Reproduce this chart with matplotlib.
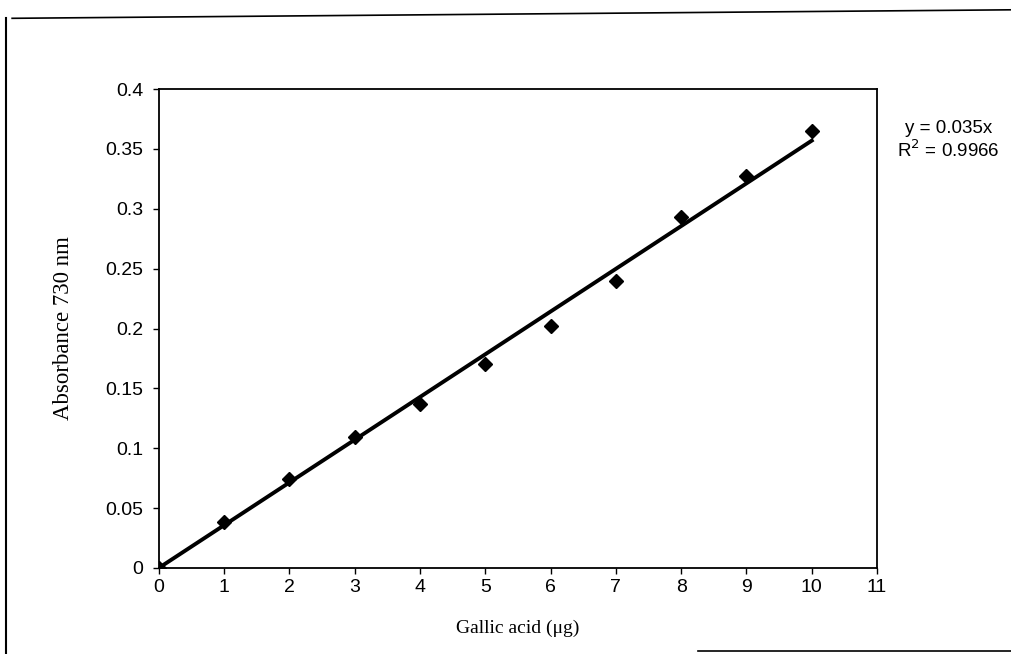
import numpy as np
import matplotlib
matplotlib.use('Agg')
import matplotlib.pyplot as plt
from matplotlib.lines import Line2D

# calibration data
gallic_ug = [0, 1, 2, 3, 4, 5, 6, 7, 8, 9, 10]
absorbance = [0, 0.038, 0.074, 0.109, 0.137, 0.170, 0.202, 0.240, 0.293, 0.327, 0.365]
x_ticks = list(range(0, 12))
y_ticks = [0, 0.05, 0.1, 0.15, 0.2, 0.25, 0.3, 0.35, 0.4]
equation_text = 'y = 0.035x'
r2_text = 'R$^2$ = 0.9966'

fig = plt.figure(figsize=(10.11, 6.54), dpi=100)
ax = fig.add_axes([0.157, 0.1315, 0.7105, 0.7324])

x = np.array(gallic_ug, dtype=float)
y = np.array(absorbance)
slope = np.sum(x * y) / np.sum(x * x)  # linear trendline through origin
ax.plot([x.min(), x.max()], [0, slope * x.max()], color='black', lw=2.8, zorder=2)
ax.plot(x, y, 'D', color='black', markersize=7.5, zorder=3)

ax.set_xlim(0, 11)
ax.set_ylim(0, 0.4)
ax.set_xticks(x_ticks)
ax.set_yticks(y_ticks)
ax.set_yticklabels(['{:g}'.format(v) for v in y_ticks])
for lab in ax.get_xticklabels() + ax.get_yticklabels():
    lab.set_family('Liberation Sans')
    lab.set_fontsize(14)
ax.tick_params(direction='out', length=4, width=1, pad=4)
ax.tick_params(axis='y', pad=7)
for s in ax.spines.values():
    s.set_linewidth(1.3)

ax.set_xlabel('Gallic acid (\u03bcg)', family='Liberation Serif', fontsize=14, labelpad=17)
ax.set_ylabel('Absorbance 730 nm', family='Liberation Serif', fontsize=16.5, labelpad=23)

fig.text(0.938, 0.804, equation_text, family='Liberation Sans', fontsize=13.5, ha='center', va='center')
fig.text(0.938, 0.771, r2_text, family='Liberation Sans', fontsize=13.5, ha='center', va='center')

# border of the scanned chart
fig.add_artist(Line2D([0.006, 0.006], [0.0, 0.972], color='black', lw=1.5))
fig.add_artist(Line2D([0.012, 1.0], [0.972, 0.985], color='black', lw=1.2))
fig.add_artist(Line2D([0.69, 1.0], [0.004, 0.004], color='black', lw=1.2))

fig.savefig('out.png', dpi=100)
